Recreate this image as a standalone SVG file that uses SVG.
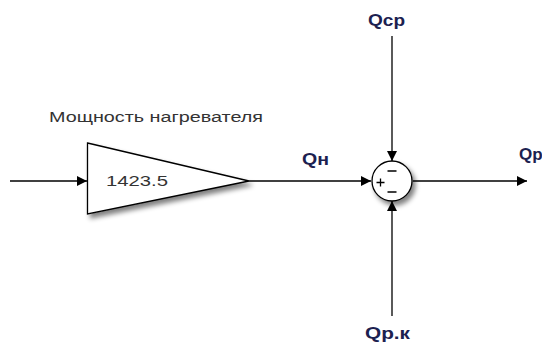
<svg xmlns="http://www.w3.org/2000/svg" width="542" height="347" viewBox="0 0 542 347">
<style>
.ln{stroke:#000;stroke-width:1.3;fill:none}
.blk{fill:#fff;stroke:#000;stroke-width:1.3}
.lbl{font-family:"Liberation Sans",Arial,sans-serif;font-weight:bold;font-size:17px;fill:#1c2150}
.txt{font-family:"Liberation Sans",Arial,sans-serif;font-size:14px;fill:#333}
</style>
<defs>
<marker id="ah" viewBox="0 0 10 10" refX="10" refY="5" markerWidth="10" markerHeight="10" markerUnits="userSpaceOnUse" orient="auto">
<path d="M0,0 L10,5 L0,10 z" fill="#000"/>
</marker>
<filter id="sh" x="-20%" y="-20%" width="150%" height="150%">
<feGaussianBlur in="SourceAlpha" stdDeviation="2.5"/>
<feOffset dx="3" dy="4" result="b"/>
<feComponentTransfer><feFuncA type="linear" slope="0.5"/></feComponentTransfer>
<feMerge><feMergeNode/><feMergeNode in="SourceGraphic"/></feMerge>
</filter>
</defs>
<g id="connectors">
<line class="ln" x1="10" y1="181" x2="87" y2="181" marker-end="url(#ah)"/>
<line class="ln" x1="249" y1="181" x2="371" y2="181" marker-end="url(#ah)"/>
<line class="ln" x1="413" y1="181" x2="527" y2="181" marker-end="url(#ah)"/>
<line class="ln" x1="392" y1="36" x2="392" y2="161" marker-end="url(#ah)"/>
<line class="ln" x1="392" y1="316" x2="392" y2="201" marker-end="url(#ah)"/>
</g>
<g id="gain">
<polygon class="blk" points="87.5,143 249,181 87.5,214" filter="url(#sh)"/>
<text class="txt" x="106" y="185.5" font-size="15" textLength="62" lengthAdjust="spacingAndGlyphs">1423.5</text>
<text class="txt" x="49" y="122" textLength="214" lengthAdjust="spacingAndGlyphs">Мощность нагревателя</text>
</g>
<g id="sum">
<circle class="blk" cx="392" cy="181" r="20" filter="url(#sh)"/>
<path class="ln" d="M376.5,182.5 H384.5 M380.5,178.5 V186.5 M387.5,171 H396.5 M387.5,192 H396.5"/>
</g>
<g id="labels">
<text class="lbl" x="368" y="26" textLength="37" lengthAdjust="spacingAndGlyphs">Qcp</text>
<text class="lbl" x="365" y="339" textLength="45" lengthAdjust="spacingAndGlyphs">Qp.к</text>
<text class="lbl" x="302" y="165" textLength="27" lengthAdjust="spacingAndGlyphs">Qн</text>
<text class="lbl" x="519" y="160">Qp</text>
</g>
</svg>
